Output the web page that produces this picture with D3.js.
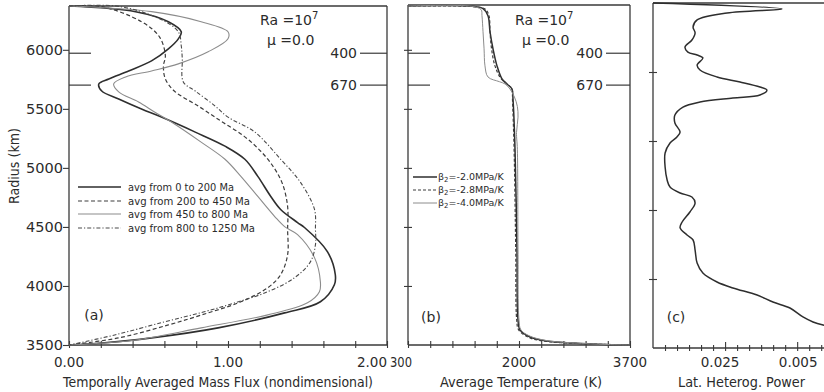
<!DOCTYPE html>
<html><head><meta charset="utf-8">
<script src="https://cdn.jsdelivr.net/npm/d3@7"></script>
<style>
body{margin:0;background:#fff;}
svg{display:block;background:#fff;}
text{font-family:"DejaVu Sans",sans-serif;fill:#2b2b2b;}
</style></head><body>
<svg id="chart" width="824" height="392"></svg>
<script>
// ---------------- DATA ----------------
// Panel (a): temporally averaged mass flux [flux, radius km]
const fluxLabels = ["avg  from 0  to 200 Ma", "avg  from 200 to 450 Ma", "avg  from 450 to 800 Ma", "avg  from 800 to 1250 Ma"];
const flux0to200 = [[0,6371],[0.419,6323],[0.625,6238],[0.706,6153],[0.6875,6093],[0.625,6008],[0.519,5906],[0.375,5821],[0.25,5753],[0.1875,5711],[0.206,5651],[0.3125,5583],[0.456,5498],[0.581,5430],[0.794,5303],[0.981,5184],[1.106,5073],[1.1875,4928],[1.269,4758],[1.331,4648],[1.4375,4537],[1.481,4495],[1.625,4291],[1.675,4095],[1.669,4010],[1.581,3866],[1.356,3772],[0.9375,3645],[0.519,3560],[0.206,3517],[0,3500]];
const flux200to450 = [[0,6371],[0.206,6365],[0.456,6238],[0.569,6110],[0.606,5949],[0.594,5864],[0.606,5753],[0.6625,5651],[0.8125,5524],[0.956,5396],[1.1,5269],[1.206,5141],[1.2875,5005],[1.344,4860],[1.375,4673],[1.375,4478],[1.375,4265],[1.331,4095],[1.25,3985],[1.081,3866],[0.875,3772],[0.625,3670],[0.3125,3560],[0,3500]];
const flux450to800 = [[0,6371],[0.519,6323],[0.831,6238],[1.0,6153],[1.0,6093],[0.875,5983],[0.6875,5881],[0.519,5821],[0.356,5770],[0.281,5711],[0.3125,5643],[0.4375,5558],[0.538,5473],[0.644,5388],[0.831,5218],[0.981,5073],[1.081,4928],[1.1875,4758],[1.294,4588],[1.356,4503],[1.4375,4435],[1.544,4240],[1.581,4036],[1.575,3951],[1.5,3857],[1.25,3755],[0.831,3645],[0.419,3543],[0,3500]];
const flux800to1250 = [[0,6371],[0.3125,6368],[0.569,6263],[0.6875,6153],[0.706,6034],[0.7125,5923],[0.719,5728],[0.794,5651],[0.919,5524],[1.0,5430],[1.169,5303],[1.331,5073],[1.456,4877],[1.544,4648],[1.55,4478],[1.55,4350],[1.519,4206],[1.419,4070],[1.25,3951],[1.044,3857],[0.85,3781],[0.6,3696],[0.2875,3585],[0,3500]];

// Panel (b): average temperature [K, radius km]
const betaLabels = ["=-2.0MPa/K", "=-2.8MPa/K", "=-4.0MPa/K"];
const tempBeta20 = [[300,6371],[1280,6368],[1449,6348],[1525,6289],[1556,6153],[1602,6008],[1663,5864],[1740,5753],[1816,5711],[1893,5668],[1908,5583],[1939,5158],[1969,4308],[1985,3713],[2015,3628],[2168,3568],[2429,3534],[2827,3517],[3348,3504],[3700,3500]];
const tempBeta28 = [[300,6371],[1280,6366],[1480,6345],[1540,6289],[1556,6153],[1580,6008],[1632,5864],[1720,5760],[1840,5700],[1893,5668],[1900,5583],[1925,5158],[1950,4308],[1965,3713],[1995,3628],[2168,3560],[2429,3530],[2827,3515],[3348,3504],[3700,3500]];
const tempBeta40 = [[300,6371],[1280,6368],[1420,6340],[1433,6289],[1449,6153],[1465,6008],[1479,5864],[1525,5770],[1700,5730],[1786,5711],[1862,5668],[1930,5600],[1975,5520],[1985,5430],[1962,5300],[1975,5158],[1985,4308],[2000,3713],[2030,3628],[2168,3575],[2429,3537],[2827,3518],[3348,3504],[3700,3500]];

// Panel (c): lateral heterogeneity power [power, radius km]
const heterogPower = [[0,6371],[0.0447,6321],[0.0257,6287],[0.0153,6229],[0.0139,6170],[0.0146,6120],[0.0135,6061],[0.0111,6002],[0.0121,5960],[0.0153,5935],[0.0173,5910],[0.0153,5851],[0.0163,5810],[0.0222,5751],[0.0302,5709],[0.0371,5667],[0.0395,5642],[0.0371,5600],[0.0277,5575],[0.0163,5541],[0.0104,5499],[0.0076,5432],[0.0076,5365],[0.0094,5290],[0.0083,5248],[0.0059,5198],[0.0042,5114],[0.0042,4997],[0.0049,4888],[0.0059,4829],[0.0094,4779],[0.0135,4745],[0.0146,4695],[0.0128,4620],[0.0101,4536],[0.0094,4486],[0.0118,4427],[0.0139,4385],[0.0146,4301],[0.0153,4192],[0.0173,4108],[0.0222,4033],[0.0277,3983],[0.0361,3924],[0.0416,3865],[0.0475,3815],[0.0520,3740],[0.0555,3698],[0.0590,3673],[0.0683,3631],[0.0787,3564]];

// Ticks and labels
const radiusTicks = [3500, 4000, 4500, 5000, 5500, 6000];
const radiusTickLabels = ["3500", "4000", "4500", "5000", "5500", "6000"];
const fluxTicks = [0, 0.2, 0.4, 0.6, 0.8, 1.0, 1.2, 1.4, 1.6, 1.8, 2.0];
const fluxLabelTicks = [0, 1, 2];
const fluxTickLabels = ["0.00", "1.00", "2.00"];
const tempTicks = [300, 640, 980, 1320, 1660, 2000, 2340, 2680, 3020, 3360, 3700];
const tempLabelTicks = [300, 2000, 3700];
const tempTickLabels = ["300", "2000", "3700"];
const powerTicks = d3.range(1, 15).map(i => i * 0.025 / 6);
const powerLabelTicks = [0.025, 0.05];
const powerTickLabels = ["0.025", "0.005"];
const cRadiusTicks = [1, 2, 3, 4].map(k => 3480 + k * (6371 - 3480) / 5);
const discontinuityDepths = [400, 670];
const discontinuityLabels = ["400", "670"];
const earthRadius = 6371;

// ---------------- DRAW ----------------
const svg = d3.select("#chart");
const ink = "#3a3a3a";

const yAB = d3.scaleLinear().domain([3500, 6371]).range([345, 6]);
const xA = d3.scaleLinear().domain([0, 2]).range([69, 387]);
const xB = d3.scaleLinear().domain([300, 3700]).range([408, 630]);
const yC = d3.scaleLinear().domain([3480, 6371]).range([348, 3]);
const xC = d3.scaleLinear().domain([0, 0.06]).range([653, 826]);

function frameLine(x1, y1, x2, y2, w) {
  svg.append("line").attr("x1", x1).attr("y1", y1).attr("x2", x2).attr("y2", y2)
    .attr("stroke", ink).attr("stroke-width", w || 1.3);
}

// frames
frameLine(xA(0), yAB(6371), xA(2), yAB(6371));
frameLine(xA(0), yAB(6371), xA(0), yAB(3500));
frameLine(xA(2), yAB(6371), xA(2), yAB(3500));
frameLine(xA(0), yAB(3500), xA(2), yAB(3500));
frameLine(xB(300), 5, xB(3700), 5);
frameLine(xB(300), 5, xB(300), yAB(3500));
frameLine(xB(3700), 5, xB(3700), yAB(3500));
frameLine(xB(300), yAB(3500), xB(3700), yAB(3500));
frameLine(xC(0), yC(6371), 824, yC(6371));
frameLine(xC(0), yC(6371), xC(0), yC(3480));
frameLine(xC(0), yC(3480), 824, yC(3480));

// axis helpers: ticks drawn by d3 axis, then made to cross the axis line
function ticksBottom(x, y, values, up, down) {
  const g = svg.append("g").attr("transform", `translate(0,${y})`)
    .call(d3.axisBottom(x).tickValues(values).tickFormat("").tickSizeOuter(0).tickSize(down));
  g.select(".domain").remove();
  g.selectAll(".tick line").attr("y1", -up).attr("stroke", ink).attr("stroke-width", 1.1);
  return g;
}
function ticksLeft(yS, x, values, inside, outside) {
  const g = svg.append("g").attr("transform", `translate(${x},0)`)
    .call(d3.axisLeft(yS).tickValues(values).tickFormat("").tickSizeOuter(0).tickSize(outside));
  g.select(".domain").remove();
  g.selectAll(".tick line").attr("x1", inside).attr("stroke", ink).attr("stroke-width", 1.1);
  return g;
}

// Panel a axes
ticksLeft(yAB, xA(0), radiusTicks, 0, 6);
ticksBottom(xA, yAB(3500), fluxTicks, 4, 3);
svg.append("g").selectAll("text").data(radiusTicks).join("text")
  .attr("x", 63).attr("y", d => yAB(d)).attr("dy", "0.36em").attr("text-anchor", "end")
  .style("font-size", "14.5px").text((d, i) => radiusTickLabels[i]);
const fluxLabelOffsets = [0, 0, -15];
svg.append("g").selectAll("text").data(fluxLabelTicks).join("text")
  .attr("x", (d, i) => xA(d) + fluxLabelOffsets[i]).attr("y", 367).attr("text-anchor", "middle")
  .style("font-size", "13.5px").text((d, i) => fluxTickLabels[i]);

// Panel b axes
ticksLeft(yAB, xB(300), radiusTicks.slice(1), 4, 4);
ticksBottom(xB, yAB(3500), tempTicks, 4, 3);
const tempLabelOffsets = [-7, 0, 0];
svg.append("g").selectAll("text").data(tempLabelTicks).join("text")
  .attr("x", (d, i) => xB(d) + tempLabelOffsets[i]).attr("y", 367).attr("text-anchor", "middle")
  .attr("textLength", (d, i) => i === 0 ? 22 : null).attr("lengthAdjust", "spacingAndGlyphs")
  .style("font-size", "13.5px").text((d, i) => tempTickLabels[i]);

// Panel c axes
ticksLeft(yC, xC(0), cRadiusTicks, 4, 4);
const gc = ticksBottom(xC, yC(3480), powerTicks, 3, 3);
gc.selectAll(".tick line").attr("y1", d => powerLabelTicks.some(p => Math.abs(p - d) < 1e-6) ? -6 : -3);
const powerLabelOffsets = [-5, 1];
svg.append("g").selectAll("text").data(powerLabelTicks).join("text")
  .attr("x", (d, i) => xC(d) + powerLabelOffsets[i]).attr("y", 367).attr("text-anchor", "middle")
  .style("font-size", "13.5px").text((d, i) => powerTickLabels[i]);

// discontinuity markers
discontinuityDepths.forEach((dep, i) => {
  const y = yAB(earthRadius - dep);
  frameLine(xA(0), y, xA(0) + 22, y, 1.2);
  frameLine(xA(2) - 27, y, xA(2), y, 1.2);
  frameLine(xB(300), y, xB(300) + 22, y, 1.2);
  frameLine(xB(3700) - 24, y, xB(3700), y, 1.2);
  svg.append("text").attr("x", xA(2) - 30).attr("y", y).attr("dy", "0.36em").attr("text-anchor", "end")
    .style("font-size", "14px").text(discontinuityLabels[i]);
  svg.append("text").attr("x", xB(3700) - 27).attr("y", y).attr("dy", "0.36em").attr("text-anchor", "end")
    .style("font-size", "14px").text(discontinuityLabels[i]);
});

// curves
function curve(data, xS, yS, stroke, width, dash) {
  svg.append("path").datum(data)
    .attr("d", d3.line().x(d => xS(d[0])).y(d => yS(d[1])).curve(d3.curveCatmullRom.alpha(0.5)))
    .attr("fill", "none").attr("stroke", stroke).attr("stroke-width", width)
    .attr("stroke-dasharray", dash || null).attr("stroke-linejoin", "round");
}
const fluxStyles = [
  {data: flux0to200, stroke: "#2e2e2e", w: 1.6, dash: null},
  {data: flux200to450, stroke: "#3c3c3c", w: 1.2, dash: "4 2.5"},
  {data: flux450to800, stroke: "#8c8c8c", w: 1.1, dash: null},
  {data: flux800to1250, stroke: "#4a4a4a", w: 1.1, dash: "4 2 1.2 2"}
];
fluxStyles.forEach(s => curve(s.data, xA, yAB, s.stroke, s.w, s.dash));

const tempStyles = [
  {data: tempBeta20, stroke: "#2e2e2e", w: 1.5, dash: null},
  {data: tempBeta28, stroke: "#3c3c3c", w: 1.2, dash: "3 2"},
  {data: tempBeta40, stroke: "#8c8c8c", w: 1.0, dash: null}
];
tempStyles.forEach(s => curve(s.data, xB, yAB, s.stroke, s.w, s.dash));

curve(heterogPower, xC, yC, "#2e2e2e", 1.5, null);

// legends
const legA = [187, 201, 214, 228];
fluxStyles.forEach((s, i) => {
  svg.append("line").attr("x1", 78).attr("x2", 121).attr("y1", legA[i]).attr("y2", legA[i])
    .attr("stroke", s.stroke).attr("stroke-width", s.w).attr("stroke-dasharray", s.dash);
});
const legAWidths = [106, 122, 120, 127];
svg.append("g").selectAll("text").data(fluxLabels).join("text")
  .attr("x", 128).attr("y", (d, i) => legA[i]).attr("dy", "0.36em")
  .attr("textLength", (d, i) => legAWidths[i]).attr("lengthAdjust", "spacingAndGlyphs")
  .style("font-size", "10px").text(d => d);

const legB = [177, 190, 203];
tempStyles.forEach((s, i) => {
  svg.append("line").attr("x1", 413).attr("x2", 437).attr("y1", legB[i]).attr("y2", legB[i])
    .attr("stroke", s.stroke).attr("stroke-width", s.w).attr("stroke-dasharray", s.dash);
  const t = svg.append("text").attr("x", 438).attr("y", legB[i]).attr("dy", "0.36em").style("font-size", "9.5px");
  t.append("tspan").text("\u03B2");
  t.append("tspan").attr("dy", "2").style("font-size", "7px").text("2");
  t.append("tspan").attr("dy", "-2").text(betaLabels[i]);
});

// annotations
function raLabel(x, y) {
  const t = svg.append("text").attr("x", x).attr("y", y).style("font-size", "14px");
  t.append("tspan").text("Ra =10");
  t.append("tspan").attr("dy", "-6").style("font-size", "10px").text("7");
  svg.append("text").attr("x", x + 7).attr("y", y + 20).style("font-size", "14px").text("\u03BC =0.0");
}
raLabel(260, 25);
raLabel(515, 25);

svg.append("text").attr("x", 94).attr("y", 320).attr("text-anchor", "middle").style("font-size", "14px").text("(a)");
svg.append("text").attr("x", 431).attr("y", 322).attr("text-anchor", "middle").style("font-size", "14px").text("(b)");
svg.append("text").attr("x", 676).attr("y", 322).attr("text-anchor", "middle").style("font-size", "14px").text("(c)");

// axis titles
svg.append("text").attr("transform", "translate(19,166) rotate(-90)").attr("text-anchor", "middle")
  .attr("textLength", 76).attr("lengthAdjust", "spacingAndGlyphs").style("font-size", "13.5px").text("Radius (km)");
svg.append("text").attr("x", 63).attr("y", 387).attr("textLength", 310).attr("lengthAdjust", "spacingAndGlyphs")
  .style("font-size", "14px").text("Temporally Averaged Mass Flux (nondimensional)");
svg.append("text").attr("x", 440).attr("y", 387).attr("textLength", 162).attr("lengthAdjust", "spacingAndGlyphs")
  .style("font-size", "14px").text("Average Temperature (K)");
svg.append("text").attr("x", 678).attr("y", 387).attr("textLength", 127).attr("lengthAdjust", "spacingAndGlyphs")
  .style("font-size", "14px").text("Lat. Heterog. Power");
</script>
</body></html>
